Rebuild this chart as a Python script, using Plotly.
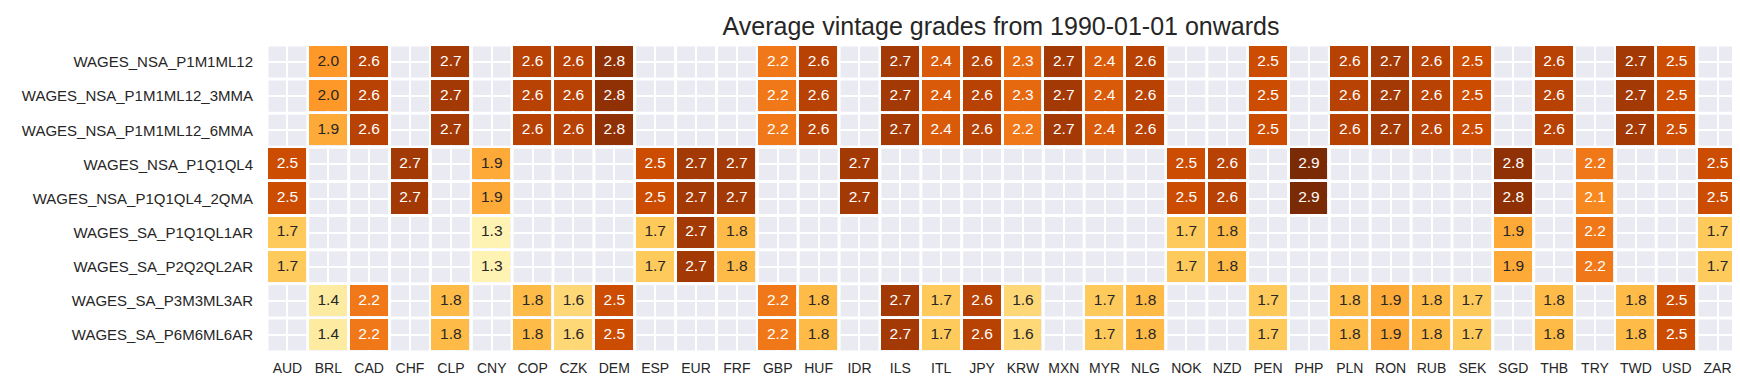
import plotly.graph_objects as go
from plotly.colors import sample_colorscale, hex_to_rgb

title = "Average vintage grades from 1990-01-01 onwards"

currencies = ["AUD", "BRL", "CAD", "CHF", "CLP", "CNY", "COP", "CZK", "DEM", "ESP",
              "EUR", "FRF", "GBP", "HUF", "IDR", "ILS", "ITL", "JPY", "KRW", "MXN",
              "MYR", "NLG", "NOK", "NZD", "PEN", "PHP", "PLN", "RON", "RUB", "SEK",
              "SGD", "THB", "TRY", "TWD", "USD", "ZAR"]

rows = ["WAGES_NSA_P1M1ML12", "WAGES_NSA_P1M1ML12_3MMA", "WAGES_NSA_P1M1ML12_6MMA",
        "WAGES_NSA_P1Q1QL4", "WAGES_NSA_P1Q1QL4_2QMA", "WAGES_SA_P1Q1QL1AR",
        "WAGES_SA_P2Q2QL2AR", "WAGES_SA_P3M3ML3AR", "WAGES_SA_P6M6ML6AR"]

N = None
#          AUD  BRL  CAD  CHF  CLP  CNY  COP  CZK  DEM  ESP  EUR  FRF  GBP  HUF  IDR  ILS  ITL  JPY  KRW  MXN  MYR  NLG  NOK  NZD  PEN  PHP  PLN  RON  RUB  SEK  SGD  THB  TRY  TWD  USD  ZAR
nsa_1m   = [N,   2.0, 2.6, N,   2.7, N,   2.6, 2.6, 2.8, N,   N,   N,   2.2, 2.6, N,   2.7, 2.4, 2.6, 2.3, 2.7, 2.4, 2.6, N,   N,   2.5, N,   2.6, 2.7, 2.6, 2.5, N,   2.6, N,   2.7, 2.5, N]
nsa_1m_3 = [N,   2.0, 2.6, N,   2.7, N,   2.6, 2.6, 2.8, N,   N,   N,   2.2, 2.6, N,   2.7, 2.4, 2.6, 2.3, 2.7, 2.4, 2.6, N,   N,   2.5, N,   2.6, 2.7, 2.6, 2.5, N,   2.6, N,   2.7, 2.5, N]
nsa_1m_6 = [N,   1.9, 2.6, N,   2.7, N,   2.6, 2.6, 2.8, N,   N,   N,   2.2, 2.6, N,   2.7, 2.4, 2.6, 2.2, 2.7, 2.4, 2.6, N,   N,   2.5, N,   2.6, 2.7, 2.6, 2.5, N,   2.6, N,   2.7, 2.5, N]
nsa_1q   = [2.5, N,   N,   2.7, N,   1.9, N,   N,   N,   2.5, 2.7, 2.7, N,   N,   2.7, N,   N,   N,   N,   N,   N,   N,   2.5, 2.6, N,   2.9, N,   N,   N,   N,   2.8, N,   2.2, N,   N,   2.5]
nsa_1q_2 = [2.5, N,   N,   2.7, N,   1.9, N,   N,   N,   2.5, 2.7, 2.7, N,   N,   2.7, N,   N,   N,   N,   N,   N,   N,   2.5, 2.6, N,   2.9, N,   N,   N,   N,   2.8, N,   2.1, N,   N,   2.5]
sa_1q    = [1.7, N,   N,   N,   N,   1.3, N,   N,   N,   1.7, 2.7, 1.8, N,   N,   N,   N,   N,   N,   N,   N,   N,   N,   1.7, 1.8, N,   N,   N,   N,   N,   N,   1.9, N,   2.2, N,   N,   1.7]
sa_2q    = [1.7, N,   N,   N,   N,   1.3, N,   N,   N,   1.7, 2.7, 1.8, N,   N,   N,   N,   N,   N,   N,   N,   N,   N,   1.7, 1.8, N,   N,   N,   N,   N,   N,   1.9, N,   2.2, N,   N,   1.7]
sa_3m    = [N,   1.4, 2.2, N,   1.8, N,   1.8, 1.6, 2.5, N,   N,   N,   2.2, 1.8, N,   2.7, 1.7, 2.6, 1.6, N,   1.7, 1.8, N,   N,   1.7, N,   1.8, 1.9, 1.8, 1.7, N,   1.8, N,   1.8, 2.5, N]
sa_6m    = [N,   1.4, 2.2, N,   1.8, N,   1.8, 1.6, 2.5, N,   N,   N,   2.2, 1.8, N,   2.7, 1.7, 2.6, 1.6, N,   1.7, 1.8, N,   N,   1.7, N,   1.8, 1.9, 1.8, 1.7, N,   1.8, N,   1.8, 2.5, N]

z = [nsa_1m, nsa_1m_3, nsa_1m_6, nsa_1q, nsa_1q_2, sa_1q, sa_2q, sa_3m, sa_6m]

ZMIN, ZMAX = 1.0, 3.0
cscale = "YlOrBr"
DARK = "#262626"
BG = "#EAEAF2"
FONT = "Liberation Sans, Arial, sans-serif"


def text_color(v):
    c = sample_colorscale(cscale, [(v - ZMIN) / (ZMAX - ZMIN)])[0]
    if c.startswith("#"):
        r, g, b = hex_to_rgb(c)
    else:
        r, g, b = [float(t) for t in c[c.index("(") + 1:c.index(")")].split(",")[:3]]

    def lin(u):
        u = u / 255.0
        return u / 12.92 if u <= 0.03928 else ((u + 0.055) / 1.055) ** 2.4

    lum = 0.2126 * lin(r) + 0.7152 * lin(g) + 0.0722 * lin(b)
    return DARK if lum > 0.408 else "white"


fig = go.Figure()
fig.add_trace(go.Heatmap(
    z=z, x=currencies, y=rows,
    colorscale=cscale, zmin=ZMIN, zmax=ZMAX,
    showscale=False, xgap=3, ygap=3, hoverongaps=False,
))

tx, ty, tt, tc = [], [], [], []
for r, row in zip(rows, z):
    for c, v in zip(currencies, row):
        if v is None:
            continue
        tx.append(c)
        ty.append(r)
        tt.append(f"{v:.1f}")
        tc.append(text_color(v))

fig.add_trace(go.Scatter(
    x=tx, y=ty, text=tt, mode="text",
    textfont=dict(family=FONT, size=15.5, color=tc),
    hoverinfo="skip", showlegend=False,
))

nx, ny = len(currencies), len(rows)
shapes = []
for i in range(nx + 1):
    shapes.append(dict(type="line", xref="x", yref="y", x0=i - 0.5, x1=i - 0.5,
                       y0=-0.5, y1=ny - 0.5, line=dict(color="white", width=3),
                       layer="between"))
for j in range(ny + 1):
    shapes.append(dict(type="line", xref="x", yref="y", x0=-0.5, x1=nx - 0.5,
                       y0=j - 0.5, y1=j - 0.5, line=dict(color="white", width=3),
                       layer="between"))

fig.update_layout(
    width=1740, height=381,
    margin=dict(l=259, r=10, t=37, b=37),
    paper_bgcolor="white", plot_bgcolor=BG,
    font=dict(family=FONT, size=14, color=DARK),
    title=dict(text=title, x=0.5707, xanchor="center", y=0.951, yanchor="middle",
               font=dict(family=FONT, size=25, color=DARK)),
    shapes=shapes,
)
fig.update_xaxes(range=[-0.5, nx - 0.5], showgrid=True, gridcolor="white", gridwidth=1.5,
                 zeroline=False, showline=False, ticks="", tickfont=dict(size=14, color=DARK),
                 ticklabelstandoff=6)
fig.update_yaxes(range=[ny - 0.5, -0.5], showgrid=True, gridcolor="white", gridwidth=1.5,
                 zeroline=False, showline=False, ticks="", tickfont=dict(size=15, color=DARK),
                 ticklabelstandoff=13)

fig.write_html("out.html")
